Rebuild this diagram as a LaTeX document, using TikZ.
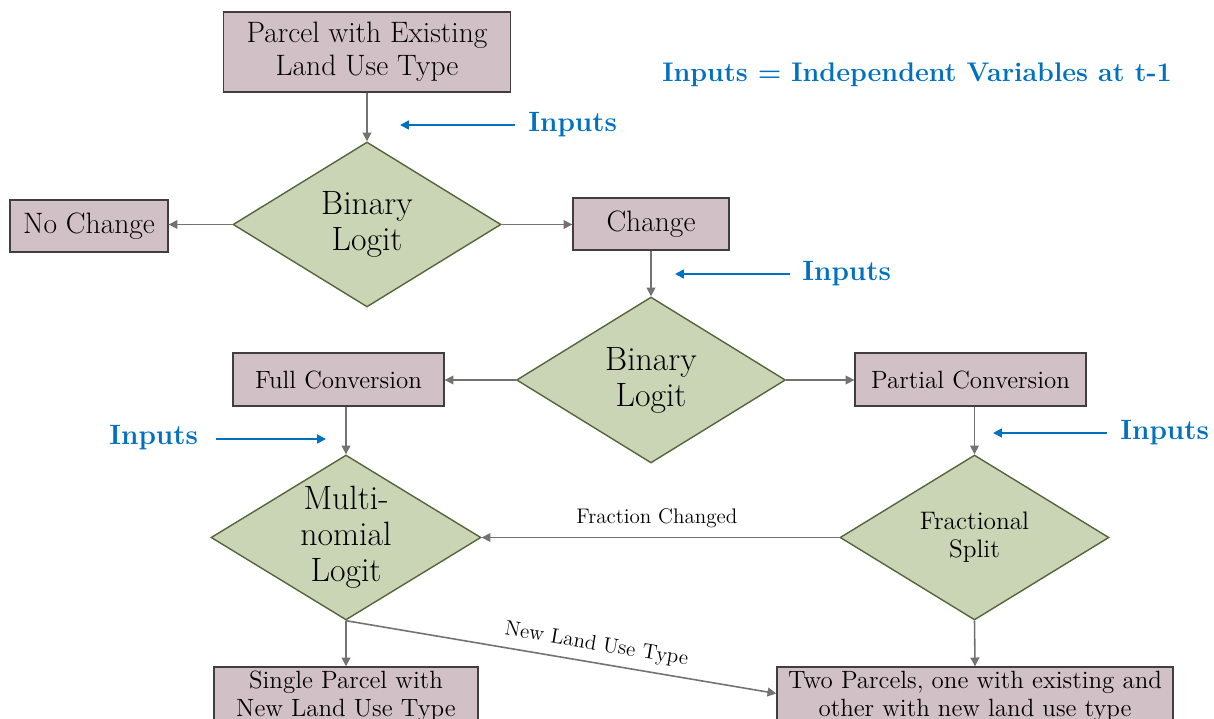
\documentclass[tikz,border=0pt]{standalone}
\usetikzlibrary{shapes.geometric,arrows.meta}
\definecolor{boxfill}{HTML}{D1C0C5}
\definecolor{boxline}{HTML}{3F3F3F}
\definecolor{dfill}{HTML}{C9D5B5}
\definecolor{dline}{HTML}{56663A}
\definecolor{conn}{HTML}{767171}
\definecolor{inblue}{HTML}{0070C0}
\begin{document}
\begin{tikzpicture}[x=0.02cm,y=-0.02cm,
  box/.style={draw=boxline, line width=0.8pt, fill=boxfill, inner sep=0pt, align=center},
  decision/.style={diamond, draw=dline, line width=0.8pt, fill=dfill, inner sep=0pt, align=center},
  flow/.style={draw=conn, line width=0.9pt, -{Triangle[length=5pt,width=5pt]}},
  inarrow/.style={draw=inblue, line width=1pt, -{Triangle[length=5pt,width=5pt]}},
  inlabel/.style={text=inblue, inner sep=0pt, font=\bfseries\fontsize{15.9}{18}\selectfont},
  big/.style={font=\fontsize{16.8}{18.5}\selectfont},
  mid/.style={font=\fontsize{14.2}{16}\selectfont},
  dbig/.style={font=\fontsize{19.2}{20.5}\selectfont},
  edgelab/.style={font=\fontsize{12}{14}\selectfont}]
\useasboundingbox (0,0) rectangle (1214,719);
\clip (0,0) rectangle (1214,719);

% boxes
\node[box, big, minimum width=5.74cm, minimum height=1.6cm] (start) at (367,52) {\raisebox{-3pt}{Parcel with Existing}\\\raisebox{-3pt}{Land Use Type}};
\node[box, big, minimum width=3.16cm, minimum height=1.04cm] (nochange) at (89,226) {\raisebox{-2pt}{No Change}};
\node[box, big, minimum width=3.12cm, minimum height=1.04cm] (change) at (651,224) {Change};
\node[box, mid, minimum width=4.22cm, minimum height=1.06cm] (full) at (338.5,379.5) {Full Conversion};
\node[box, mid, minimum width=4.62cm, minimum height=1.06cm] (partial) at (970.5,379.5) {Partial Conversion};
\node[box, mid, minimum width=5.28cm, minimum height=1.16cm] (single) at (346,696) {Single Parcel with\\New Land Use Type};
\node[box, mid, minimum width=7.92cm, minimum height=1.16cm] (two) at (975,696) {Two Parcels, one with existing and\\other with new land use type};

% decisions
\node[decision, dbig, minimum width=5.36cm, minimum height=3.3cm] (bl1) at (367,224.5) {Binary\\Logit};
\node[decision, dbig, minimum width=5.38cm, minimum height=3.32cm] (bl2) at (651,380) {Binary\\Logit};
\node[decision, dbig, inner sep=-0.4cm, minimum width=5.4cm, minimum height=3.3cm] (mnl) at (346,537.5) {Multi-\\nomial\\Logit};
\node[decision, font=\fontsize{14.4}{16}\selectfont, minimum width=5.38cm, minimum height=3.3cm] (frac) at (974.5,537.5) {Fractional\\Split};

% flow
\draw[flow] (start.south) -- (bl1.north);
\draw[flow] (bl1.west) -- (nochange.east |- bl1.west);
\draw[flow] (bl1.east) -- (change.west |- bl1.east);
\draw[flow] (change.south) -- (bl2.north);
\draw[flow] (bl2.west) -- (full.east |- bl2.west);
\draw[flow] (bl2.east) -- (partial.west |- bl2.east);
\draw[flow] (mnl.north |- full.south) -- (mnl.north);
\draw[flow] (frac.north |- partial.south) -- (frac.north);
\draw[flow] (frac.west) -- node[edgelab, above=2pt, pos=0.51] (fc) {Fraction Changed} (mnl.east);
\draw[flow] (mnl.south) -- (single.north);
\draw[flow] (mnl.south) -- node[edgelab, sloped, above=1pt, pos=0.575] (nl) {New Land Use Type} ([yshift=0.05cm]two.west);
\draw[flow] (frac.south) -- (two.north);

% inputs
\node[inlabel, anchor=west] (in1) at (528,125) {Inputs};
\node[inlabel, anchor=west] (in2) at (802,274) {Inputs};
\node[inlabel, anchor=west] (in3) at (109,438) {Inputs};
\node[inlabel, anchor=west] (in4) at (1120,433) {Inputs};
\coordinate (t1) at (400,125);
\coordinate (t2) at (675,274);
\coordinate (t3) at (326,439);
\coordinate (t4) at (993,433);
\draw[inarrow] ([xshift=-0.26cm]in1.west) -- (t1);
\draw[inarrow] ([xshift=-0.24cm]in2.west) -- (t2);
\draw[inarrow] (in3.east |- t3) ++(0.36cm,0) -- (t3);
\draw[inarrow] ([xshift=-0.26cm]in4.west) -- (t4);

\node[inlabel, font=\bfseries\fontsize{15.3}{18}\selectfont, anchor=west] (legend) at (662,75) {Inputs = Independent Variables at t-1};
\end{tikzpicture}
\end{document}
